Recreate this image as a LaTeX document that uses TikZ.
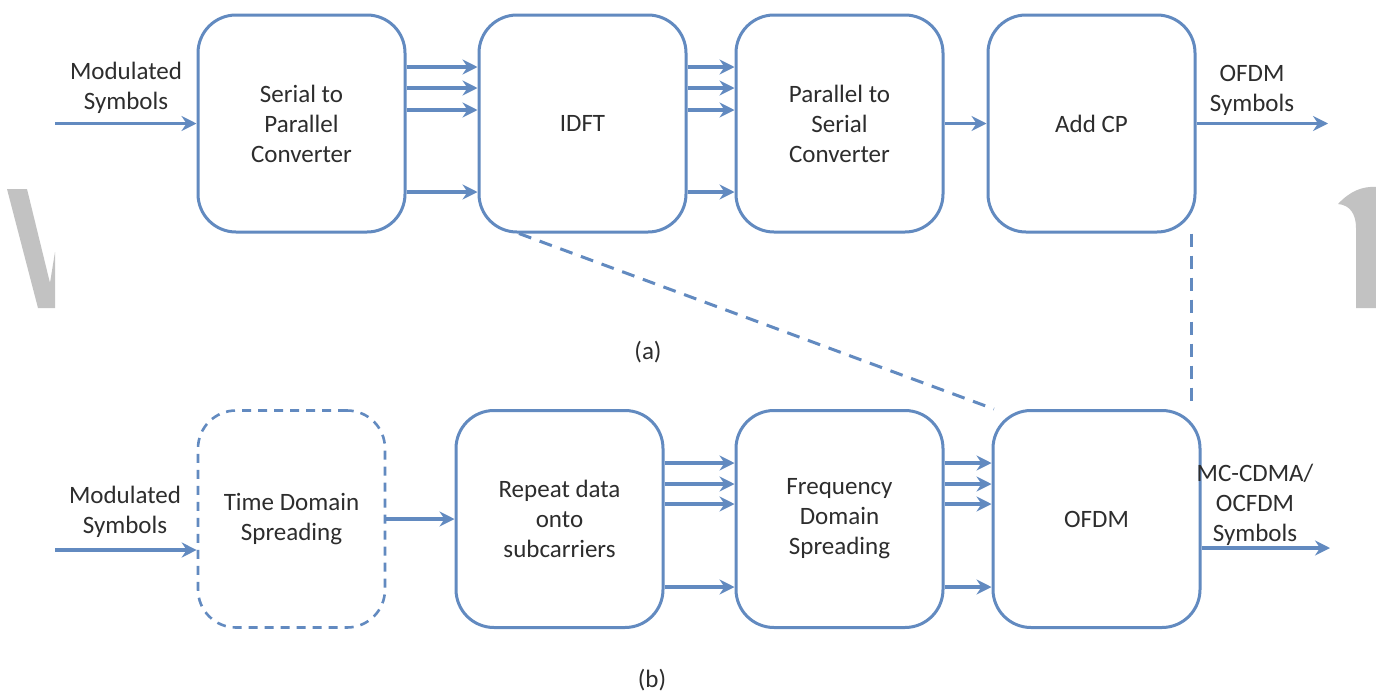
\documentclass[tikz,border=0pt]{standalone}
\usepackage{fontspec}
\setmainfont{Carlito}
\usetikzlibrary{arrows.meta}
\definecolor{flow}{RGB}{98,138,192}
\definecolor{ink}{RGB}{45,45,45}
\definecolor{wm}{RGB}{194,194,194}

\begin{document}
\begin{tikzpicture}[x=1pt,y=-1pt,
  txt/.style={font=\fontsize{25}{30}\selectfont, text=ink, align=center, inner sep=0pt},
  block/.style={txt, draw=flow, line width=3pt, rounded corners=38pt,
                minimum width=207pt, minimum height=217pt},
  optblock/.style={block, minimum width=187pt, dash pattern=on 9pt off 7pt, line width=2.6pt},
  flowarrow/.style={draw=flow, line width=3.2pt,
                    -{Stealth[length=15pt,width=15pt,inset=5pt]}},
  linkdash/.style={draw=flow, line width=3pt, dash pattern=on 13pt off 9pt}
]
% canvas
\fill[white] (0,0) rectangle (1376,691);
\useasboundingbox (0,0) rectangle (1376,691);

% faint grey letter fragments at the edges
\fill[wm] (7,189) -- (27,189) -- (50,283) -- (55,252) -- (55,308) -- (38,308) -- cycle;
\fill[wm] (1338,204) .. controls (1350,191) and (1363,186) .. (1376,187)
          -- (1376,308) -- (1356,308) -- (1356,228)
          .. controls (1356,214) and (1350,205) .. (1338,204) -- cycle;

% ---------- (a) OFDM transmitter ----------
\node[block] (sp)   at (301.5,123.5) {Serial to\\Parallel\\Converter};
\node[block] (idft) at (582.5,123.5) {IDFT};
\node[block] (ps)   at (839.5,123.5) {Parallel to\\Serial\\Converter};
\node[block] (cp)   at (1091.5,123.5) {Add CP};

\coordinate (inA)  at (55,123.5);
\coordinate (outA) at (1328,123.5);
\node[txt] (labInA)  at (126,88) {Modulated\\Symbols};
\node[txt] (labOutA) at (1252,90) {OFDM\\Symbols};

\coordinate (ya) at (0,67);
\coordinate (yb) at (0,88);
\coordinate (yc) at (0,110);
\coordinate (yd) at (0,192);

\draw[flowarrow] (inA) -- (sp.west);
\foreach \r in {ya,yb,yc,yd}{
  \draw[flowarrow] (sp.east |- \r) -- (idft.west |- \r);
  \draw[flowarrow] (idft.east |- \r) -- (ps.west |- \r);
}
\draw[flowarrow] (ps.east) -- (cp.west);
\draw[flowarrow] (cp.east) -- (outA);

\node[txt] (capA) at (648,352) {(a)};

% ---------- (b) MC-CDMA / OCFDM transmitter ----------
\node[optblock] (tds)  at (291.5,519) {Time Domain\\Spreading};
\node[block]    (rep)  at (559.5,519) {Repeat data\\onto\\subcarriers};
\node[block]    (fds)  at (839.5,519) {Frequency\\Domain\\Spreading};
\node[block]    (ofdm) at (1096.5,519) {OFDM};

\coordinate (inB)  at (55,550);
\coordinate (outB) at (1330,548);
\node[txt] (labInB)  at (125,512) {Modulated\\Symbols};
\node[txt] (labOutB) at (1255,505) {MC-CDMA/\\OCFDM\\Symbols};

\coordinate (ye) at (0,463);
\coordinate (yf) at (0,484);
\coordinate (yg) at (0,504);
\coordinate (yh) at (0,587);

\draw[flowarrow] (inB) -- (inB -| tds.west);
\draw[flowarrow] (tds.east) -- (rep.west);
\foreach \r in {ye,yf,yg,yh}{
  \draw[flowarrow] (rep.east |- \r) -- (fds.west |- \r);
  \draw[flowarrow] (fds.east |- \r) -- (ofdm.west |- \r);
}
\draw[flowarrow] (ofdm.east |- outB) -- (outB);

\node[txt] (capB) at (652,680) {(b)};

% OFDM block stands for IDFT ... Add CP
\draw[linkdash] (idft.-120) -- (ofdm.133);
\coordinate (vtop) at ([xshift=-5pt]cp.south east);
\draw[linkdash] (vtop) -- (vtop |- ofdm.north);
\end{tikzpicture}
\end{document}
